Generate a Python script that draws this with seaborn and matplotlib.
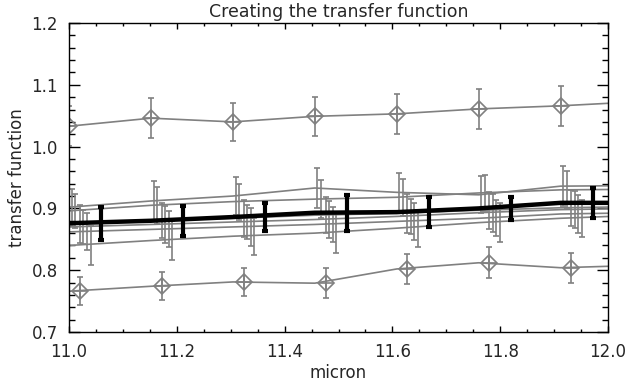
import numpy as np
import pandas as pd
import seaborn as sns
import matplotlib.pyplot as plt
from matplotlib.ticker import MultipleLocator

# wavelength grid the curves are sampled on
wave = [11.0, 11.152, 11.304, 11.456, 11.608, 11.76, 11.912, 12.064]

# individual calibrator curves (grey, no markers)
cal_a = [0.902, 0.912, 0.920, 0.933, 0.926, 0.922, 0.936, 0.937]
cal_b = [0.896, 0.905, 0.911, 0.915, 0.918, 0.925, 0.930, 0.931]
cal_c = [0.875, 0.880, 0.884, 0.889, 0.892, 0.897, 0.901, 0.903]
cal_d = [0.870, 0.874, 0.878, 0.882, 0.887, 0.893, 0.898, 0.900]
cal_e = [0.862, 0.866, 0.870, 0.874, 0.879, 0.884, 0.891, 0.893]
cal_f = [0.840, 0.848, 0.855, 0.860, 0.868, 0.877, 0.884, 0.889]
err_a = [0.030, 0.032, 0.030, 0.033, 0.031, 0.030, 0.032, 0.030]
err_b = [0.028, 0.030, 0.029, 0.031, 0.030, 0.029, 0.030, 0.030]
err_c = [0.031, 0.028, 0.030, 0.029, 0.031, 0.030, 0.029, 0.030]
err_d = [0.027, 0.030, 0.028, 0.030, 0.029, 0.031, 0.030, 0.030]
err_e = [0.030, 0.029, 0.031, 0.028, 0.030, 0.029, 0.031, 0.030]
err_f = [0.032, 0.031, 0.030, 0.032, 0.030, 0.031, 0.030, 0.030]

# outlier curves (grey, diamonds)
high = [1.033, 1.046, 1.040, 1.049, 1.053, 1.061, 1.066, 1.073]
high_err = [0.032, 0.032, 0.031, 0.032, 0.032, 0.032, 0.032, 0.032]
low = [0.766, 0.774, 0.781, 0.779, 0.802, 0.812, 0.804, 0.808]
low_err = [0.023, 0.023, 0.023, 0.024, 0.024, 0.025, 0.024, 0.024]

# final transfer function (thick black)
tf = [0.876, 0.880, 0.886, 0.893, 0.894, 0.900, 0.909, 0.909]
tf_err = [0.027, 0.024, 0.023, 0.029, 0.024, 0.019, 0.024, 0.024]

cal_names = ['a', 'b', 'c', 'd', 'e', 'f']
cal_vals = [cal_a, cal_b, cal_c, cal_d, cal_e, cal_f]
cal_errs = [err_a, err_b, err_c, err_d, err_e, err_f]
cal_shift = [0.005, 0.012, 0.020, 0.026, 0.033, 0.040]  # horizontal jitter of error bars

rows = []
for n, v in zip(cal_names, cal_vals):
    rows += [{'micron': w, 'tf': y, 'set': n} for w, y in zip(wave, v)]
rows += [{'micron': w, 'tf': y, 'set': 'high'} for w, y in zip(wave, high)]
rows += [{'micron': w, 'tf': y, 'set': 'low'} for w, y in zip(wave, low)]
df = pd.DataFrame(rows)

sns.set_style("ticks")
plt.rcParams['font.family'] = ['DejaVu Sans']

grey = '#808080'
fig = plt.figure(figsize=(6.28, 3.90), dpi=100)
ax = fig.add_axes([69 / 628, 58 / 390, 539 / 628, 309 / 390])

sns.lineplot(data=df, x='micron', y='tf', hue='set', units='set', estimator=None,
             palette=[grey] * 8, legend=False, lw=1.2, ax=ax, sort=False)

for v, e, s in zip(cal_vals, cal_errs, cal_shift):
    ax.errorbar(np.array(wave) + s, v, yerr=e, fmt='none', ecolor=grey,
                elinewidth=1.2, capsize=2.5, capthick=1.2)

ax.errorbar(np.array(wave), high, yerr=high_err, fmt='D', color=grey, mfc='none',
            mec=grey, ms=8, mew=1.2, elinewidth=1.2, capsize=2.5, capthick=1.2)
ax.plot(np.array(wave), high, '+', color=grey, ms=10, mew=1.2)
ax.errorbar(np.array(wave) + 0.02, low, yerr=low_err, fmt='D', color=grey, mfc='none',
            mec=grey, ms=8, mew=1.2, elinewidth=1.2, capsize=2.5, capthick=1.2)
ax.plot(np.array(wave) + 0.02, low, '+', color=grey, ms=10, mew=1.2)

sns.lineplot(x=wave, y=tf, color='black', lw=3.2, ax=ax, sort=False)
ax.errorbar(np.array(wave) + 0.06, tf, yerr=tf_err, fmt='none', ecolor='black',
            elinewidth=3, capsize=2.5, capthick=3)

ax.set_xlim(11.0, 12.0)
ax.set_ylim(0.7, 1.2)
ax.xaxis.set_major_locator(MultipleLocator(0.2))
ax.xaxis.set_minor_locator(MultipleLocator(0.05))
ax.yaxis.set_major_locator(MultipleLocator(0.1))
ax.yaxis.set_minor_locator(MultipleLocator(0.02))
ax.xaxis.set_major_formatter(plt.FormatStrFormatter('%.1f'))
ax.yaxis.set_major_formatter(plt.FormatStrFormatter('%.1f'))
ax.tick_params(axis='both', which='both', direction='in', top=True, right=True,
               width=1, color='black', labelsize=12)
ax.tick_params(axis='x', which='major', length=4.5, pad=8)
ax.tick_params(axis='x', which='minor', length=2.3)
ax.tick_params(axis='y', which='major', length=8, pad=8)
ax.tick_params(axis='y', which='minor', length=4)
for sp in ax.spines.values():
    sp.set_linewidth(1)
    sp.set_color('black')

ax.set_title('Creating the transfer function', fontsize=12.5, pad=4)
ax.set_xlabel('micron', fontsize=12, labelpad=2)
ax.set_ylabel('transfer function', fontsize=12, labelpad=4)

fig.savefig('out.png', dpi=100)
